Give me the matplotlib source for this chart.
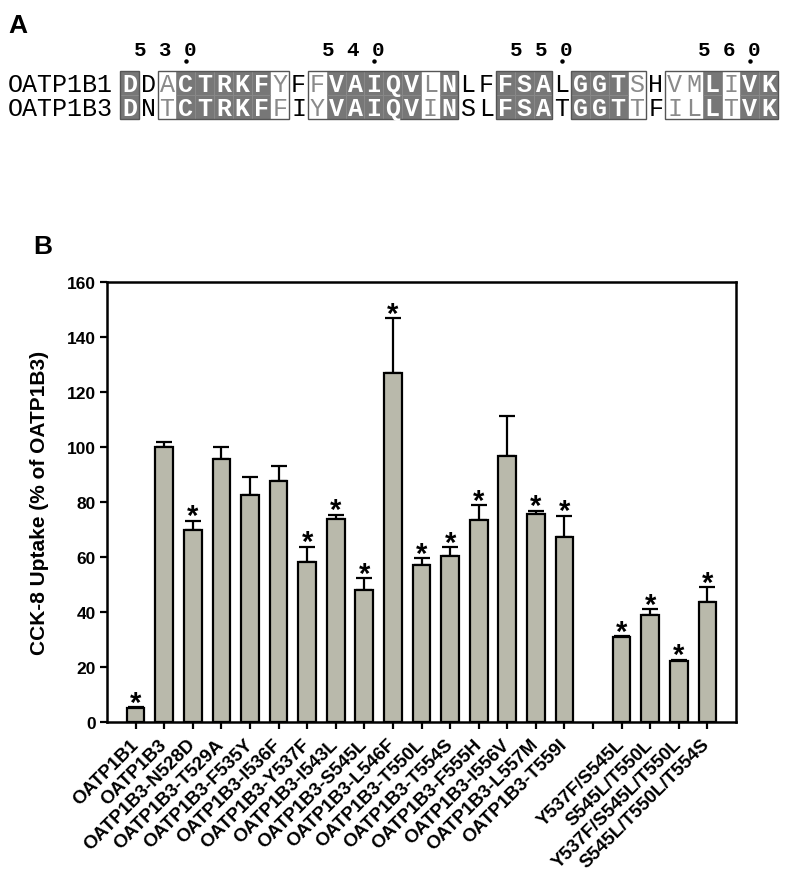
import numpy as np
import matplotlib
matplotlib.use("Agg")
import matplotlib.pyplot as plt
import matplotlib.transforms as mtransforms
from matplotlib.patches import Rectangle

plt.rcParams['font.family'] = ['Liberation Sans', 'DejaVu Sans']

# panel A: alignment
seq_1b1 = "DDACTRKFYFFVAIQVLNLFFSALGGTSHVMLIVK"
seq_1b3 = "DNTCTRKFFIYVAIQVINSLFSATGGTTFILLTVK"
row_names = ["OATP1B1", "OATP1B3"]
first_residue = 527
similar_cols = [2, 8, 10, 16, 27, 29, 30, 32]
mark_positions = [530, 540, 550, 560]

# panel B: bar data
labels = ["OATP1B1", "OATP1B3", "OATP1B3-N528D", "OATP1B3-T529A", "OATP1B3-F535Y",
          "OATP1B3-I536F", "OATP1B3-Y537F", "OATP1B3-I543L", "OATP1B3-S545L",
          "OATP1B3-L546F", "OATP1B3-T550L", "OATP1B3-T554S", "OATP1B3-F555H",
          "OATP1B3-I556V", "OATP1B3-L557M", "OATP1B3-T559I", "",
          "Y537F/S545L", "S545L/T550L", "Y537F/S545L/T550L", "S545L/T550L/T554S"]
values = [5.0, 100.0, 69.8, 95.6, 82.5, 87.5, 58.3, 73.8, 48.0, 126.8, 57.2, 60.2,
          73.5, 96.8, 75.6, 67.3, np.nan, 30.8, 38.9, 22.3, 43.6]
errors = [0.4, 2.0, 3.4, 4.4, 6.7, 5.5, 5.4, 1.5, 4.2, 20.0, 2.3, 3.4,
          5.4, 14.6, 1.2, 7.7, np.nan, 0.4, 2.2, 0.3, 5.4]
signif = [1, 0, 1, 0, 0, 0, 1, 1, 1, 1, 1, 1, 1, 0, 1, 1, 0, 1, 1, 1, 1]

W, H = 786, 879
fig = plt.figure(figsize=(W / 100, H / 100), dpi=100)

# overlay in pixel coords for panel A and panel letters
ov = fig.add_axes([0, 0, 1, 1])
ov.set_xlim(0, W)
ov.set_ylim(H, 0)
ov.axis('off')

x_start, col_w = 120.0, 18.8
row_top = [72.0, 96.0]
row_h = 24.0
dark = '#777777'

ov.text(8, 26, "A", fontsize=19, fontweight='bold', ha='left', va='center')
ov.text(33, 247, "B", fontsize=19, fontweight='bold', ha='left', va='center')

for r, name in enumerate(row_names):
    ov.text(8, row_top[r] + row_h / 2 + 1, name, family='Liberation Mono',
            fontsize=18, ha='left', va='center')

n = len(seq_1b1)
kind = []
for i in range(n):
    if seq_1b1[i] == seq_1b3[i]:
        kind.append('id')
    elif i in similar_cols:
        kind.append('sim')
    else:
        kind.append('diff')

for i in range(n):
    x0 = x_start + i * col_w
    for r, seq in enumerate([seq_1b1, seq_1b3]):
        y0 = row_top[r]
        if kind[i] == 'id':
            ov.add_patch(Rectangle((x0, y0), col_w, row_h, facecolor=dark,
                                   edgecolor='#8a8a8a', lw=0.6))
            ov.text(x0 + col_w / 2, y0 + row_h / 2 + 1, seq[i], family='Liberation Mono',
                    fontsize=18, fontweight='bold', color='white', ha='center', va='center')
        elif kind[i] == 'sim':
            ov.text(x0 + col_w / 2, y0 + row_h / 2 + 1, seq[i], family='Liberation Mono',
                    fontsize=18, color='#8a8a8a', ha='center', va='center')
        else:
            ov.text(x0 + col_w / 2, y0 + row_h / 2 + 1, seq[i], family='Liberation Mono',
                    fontsize=18, color='black', ha='center', va='center')

# outline boxes round runs of conserved columns
i = 0
while i < n:
    if kind[i] != 'diff':
        j = i
        while j + 1 < n and kind[j + 1] != 'diff':
            j += 1
        ov.add_patch(Rectangle((x_start + i * col_w, row_top[0]), (j - i + 1) * col_w,
                               2 * row_h, facecolor='none', edgecolor='#555555', lw=1.0))
        i = j + 1
    else:
        i += 1

for p in mark_positions:
    cx = x_start + (p - first_residue + 0.5) * col_w
    ov.plot([cx], [62], 'o', color='black', ms=2.2)
    ov.text(cx - 21, 51, " ".join(str(p)), family='Liberation Mono', fontsize=15,
            fontweight='bold', ha='center', va='center')

# panel B
ax = fig.add_axes([107 / W, 1 - 723 / H, (736 - 107) / W, (723 - 283) / H])
x = np.arange(len(labels))
ax.bar(x, values, width=0.62, color='#b9b9ab', edgecolor='black', linewidth=1.6, zorder=2)
ax.errorbar(x, values, yerr=[np.zeros(len(x)), errors], fmt='none', ecolor='black',
            elinewidth=1.6, capsize=5.5, capthick=1.6, zorder=1)
for xi, v, e, s in zip(x, values, errors, signif):
    if s:
        ax.annotate('*', (xi, v + e), xytext=(0, -2.5), textcoords='offset points',
                    ha='center', va='baseline', fontsize=21, fontweight='bold')

ax.set_xlim(-1, 21)
ax.set_ylim(0, 160)
ax.set_yticks(np.arange(0, 161, 20))
ax.set_xticks(x)
ax.set_xticklabels(labels, rotation=45, ha='right', va='center', rotation_mode='anchor',
                   fontsize=13.5, fontweight='bold')
shift = mtransforms.ScaledTranslation(5 / 100, 0, fig.dpi_scale_trans)
for t in ax.get_xticklabels():
    t.set_transform(t.get_transform() + shift)
for t in ax.get_yticklabels():
    t.set_fontweight('bold')
    t.set_fontsize(12.5)
ax.tick_params(direction='out', length=5, width=1.6, pad=3)
ax.tick_params(axis='x', pad=9)
for sp in ax.spines.values():
    sp.set_linewidth(1.8)
ax.set_ylabel("CCK-8 Uptake (% of OATP1B3)", fontsize=15, fontweight='bold', labelpad=13)

fig.savefig("out.png", dpi=100)
